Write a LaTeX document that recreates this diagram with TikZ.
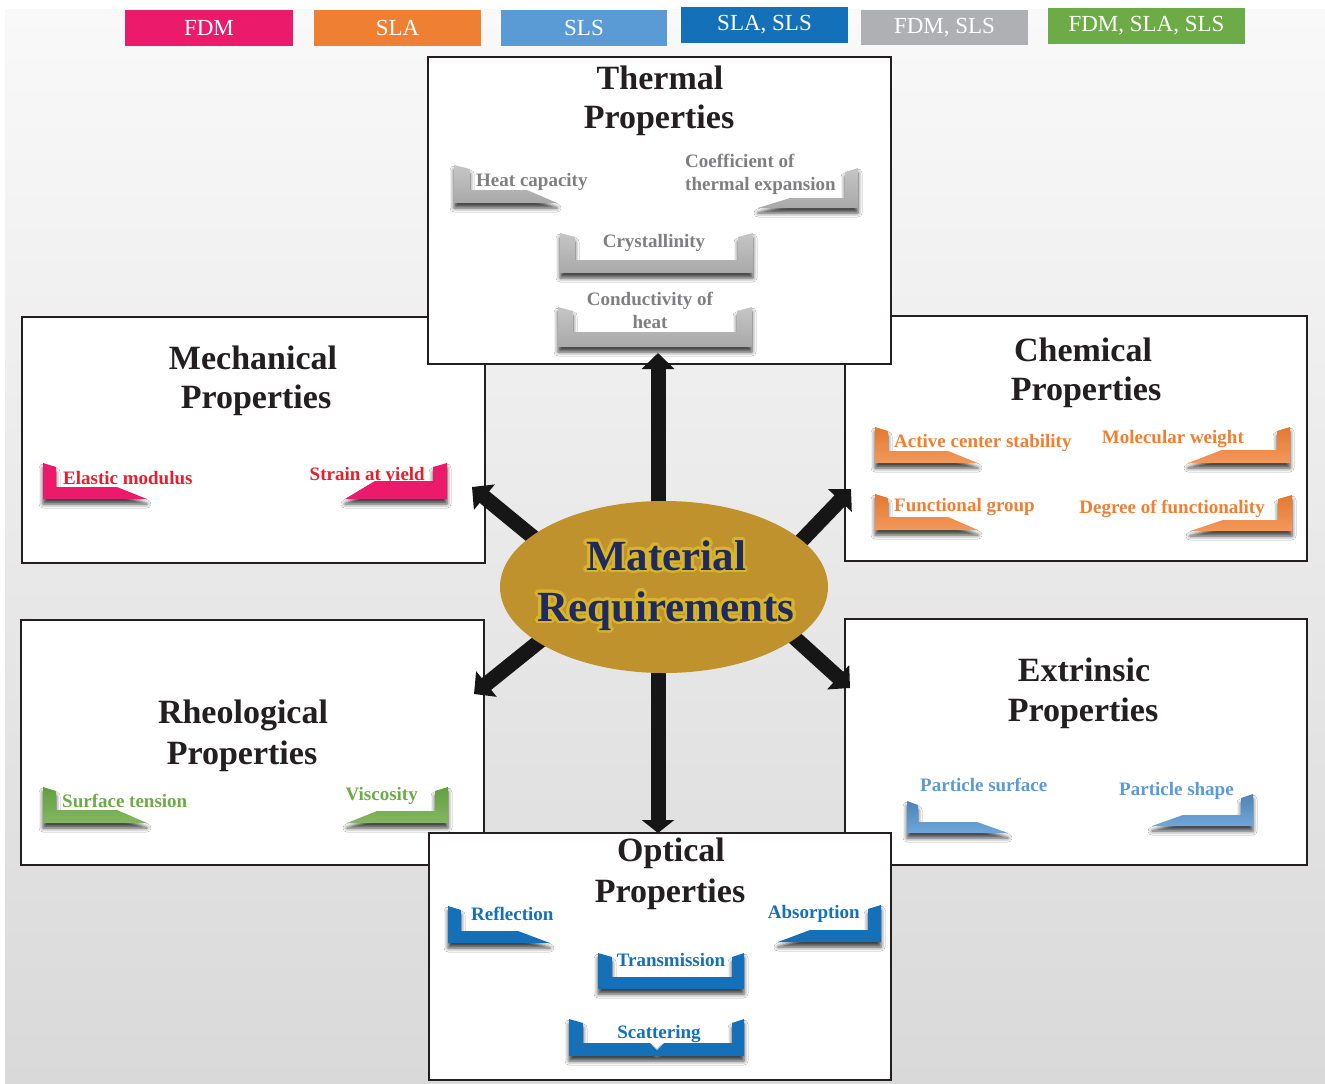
\documentclass[tikz,border=0pt]{standalone}
\usepackage{fontspec}
\setmainfont{Liberation Serif}
\usepackage{contour}
\usetikzlibrary{shapes.geometric,arrows.meta,shadows.blur}

\definecolor{fdmc}{HTML}{EC1A6A}
\definecolor{slac}{HTML}{EF7F32}
\definecolor{slsc}{HTML}{5B9BD5}
\definecolor{slaslsc}{HTML}{1370B9}
\definecolor{fdmslsc}{HTML}{AFB0B3}
\definecolor{allc}{HTML}{6DAB46}
\definecolor{boxline}{HTML}{231F20}
\definecolor{titlec}{HTML}{231F20}
\definecolor{bgtop}{HTML}{F9F9F9}
\definecolor{bgbot}{HTML}{D9D9D9}
\definecolor{goldc}{HTML}{C0922E}
\definecolor{navyc}{HTML}{1F2A5E}
\definecolor{glowc}{HTML}{D8B42B}
\definecolor{arrowc}{HTML}{161616}
\definecolor{mechtxt}{HTML}{EC1C2E}
\definecolor{thermtxt}{HTML}{7F7F81}

\contourlength{2.6pt}
\contournumber{32}

% bracket with the bar on the left: style, x0, x1, ytop, ycorner, ybottom, xflat, xtip
\newcommand\brL[8]{\path[#1] (#2,#4) -- (#3,#4+4) -- (#3,#5) -- (#7,#5) -- (#8,#6) -- (#2,#6) -- cycle;}
% bracket with the bar on the right: style, xinner, xouter, ytop, ycorner, ybottom, xflat, xtip
\newcommand\brR[8]{\path[#1] (#3,#4) -- (#2,#4+4) -- (#2,#5) -- (#7,#5) -- (#8,#6) -- (#3,#6) -- cycle;}
% U-shaped bracket: style, xa, xa2, xb, xb2, ytop, ycorner, ybottom
\newcommand\brU[8]{\path[#1] (#2,#6) -- (#3,#6+4) -- (#3,#7) -- (#4,#7) -- (#4,#6+4) -- (#5,#6) -- (#5,#8) -- (#2,#8) -- cycle;}

\begin{document}
\begin{tikzpicture}[x=1pt,y=-1pt,
  legbox/.style={rectangle, inner sep=0pt, text=white, minimum height=36pt,
    font=\fontsize{23}{26}\selectfont},
  propbox/.style={rectangle, draw=boxline, line width=2pt, fill=white, inner sep=0pt},
  ptitle/.style={anchor=base, inner sep=0pt, text=titlec,
    font=\fontsize{34}{40}\selectfont\bfseries},
  item/.style={inner sep=0pt, font=\fontsize{19}{23}\selectfont\bfseries},
  bshadow/.style={blur shadow={shadow xshift=0pt, shadow yshift=-5pt,
    shadow blur radius=4pt, shadow opacity=75}},
  grbr/.style={top color=gray!45, bottom color=gray!68, bshadow},
  pkbr/.style={fill=fdmc, bshadow},
  orbr/.style={top color=slac!95!black, bottom color=slac!80!white, bshadow},
  gnbr/.style={top color=allc!92!black, bottom color=allc!85!white, bshadow},
  lbbr/.style={top color=slsc!85!black, bottom color=slsc!88!white, bshadow},
  blbr/.style={fill=slaslsc, bshadow},
  bigarrow/.style={draw=arrowc, line width=15pt, -{Triangle[width=32pt,length=16pt]}},
]
% page and soft grey backdrop
\fill[white] (0,0) rectangle (1325,1084);
\shade[top color=bgtop, bottom color=bgbot] (5,9) rectangle (1325,1084);

% legend
\node[legbox, fill=fdmc,    minimum width=168pt] (lgA) at (209,28)    {FDM};
\node[legbox, fill=slac,    minimum width=167pt] (lgB) at (397.5,28)  {SLA};
\node[legbox, fill=slsc,    minimum width=166pt] (lgC) at (584,28)    {SLS};
\node[legbox, fill=slaslsc, minimum width=167pt] (lgD) at (764.5,25)  {SLA, SLS};
\node[legbox, fill=fdmslsc, minimum width=167pt, minimum height=35pt] (lgE) at (944.5,27.5) {FDM, SLS};
\node[legbox, fill=allc,    minimum width=197pt] (lgF) at (1146.5,26) {FDM, SLA, SLS};

% property boxes (side boxes first, top and bottom boxes overlap them)
\node[propbox, minimum width=463pt, minimum height=246pt] (mech)  at (253.5,440)  {};
\node[propbox, minimum width=462pt, minimum height=245pt] (chem)  at (1076,438.5) {};
\node[propbox, minimum width=463pt, minimum height=245pt] (rheo)  at (252.5,742.5) {};
\node[propbox, minimum width=462pt, minimum height=246pt] (extr)  at (1076,742)   {};
\node[propbox, minimum width=463pt, minimum height=307pt] (therm) at (659.5,210.5) {};
\node[propbox, minimum width=462pt, minimum height=247pt] (optic) at (660,956.5)  {};

% titles
\node[ptitle] (thT1) at (660,89)   {Thermal};
\node[ptitle] (thT2) at (659,128)  {Properties};
\node[ptitle] (meT1) at (253,369)  {Mechanical};
\node[ptitle] (meT2) at (256,408)  {Properties};
\node[ptitle] (chT1) at (1083,361) {Chemical};
\node[ptitle] (chT2) at (1086,400) {Properties};
\node[ptitle] (rhT1) at (243,723)  {Rheological};
\node[ptitle] (rhT2) at (242,764)  {Properties};
\node[ptitle] (exT1) at (1084,681) {Extrinsic};
\node[ptitle] (exT2) at (1083,721) {Properties};
\node[ptitle] (opT1) at (671,861)  {Optical};
\node[ptitle] (opT2) at (670,902)  {Properties};

% thermal items
\brL{grbr}{454}{470}{165}{190}{203}{527}{557}
\brR{grbr}{845}{858}{168}{198}{208}{790}{758}
\brU{grbr}{560}{575}{738}{753}{233}{260}{273}
\brU{grbr}{558}{573}{737}{752}{307}{332}{347}
\node[item, text=thermtxt, anchor=base west] (heat) at (476,186) {Heat capacity};
\node[item, text=thermtxt, anchor=base west] (cte1) at (685,167) {Coefficient of};
\node[item, text=thermtxt, anchor=base west] (cte2) at (685,190) {thermal expansion};
\node[item, text=thermtxt, anchor=base] (cryst) at (654,247) {Crystallinity};
\node[item, text=thermtxt, anchor=base] (cond1) at (650,305) {Conductivity of};
\node[item, text=thermtxt, anchor=base] (cond2) at (650,328) {heat};

% mechanical items
\brL{pkbr}{43}{56}{463}{487}{499}{117}{147}
\brR{pkbr}{433}{447}{463}{481}{499}{375}{345}
\node[item, text=mechtxt, anchor=base west] (elast) at (63,484) {Elastic modulus};
\node[item, text=mechtxt, anchor=base east] (strain) at (425,480) {Strain at yield};

% chemical items
\brL{orbr}{875}{888}{427}{451}{463}{948}{978}
\brR{orbr}{1277}{1290}{427}{450}{463}{1222}{1188}
\brL{orbr}{875}{888}{494}{517}{530}{948}{978}
\brR{orbr}{1278}{1292}{495}{520}{531}{1223}{1190}
\node[item, text=slac, anchor=base west] (active) at (894,447)  {Active center stability};
\node[item, text=slac, anchor=base east] (molw)   at (1244,443) {Molecular weight};
\node[item, text=slac, anchor=base west] (func)   at (894,511)  {Functional group};
\node[item, text=slac, anchor=base east] (degf)   at (1265,513) {Degree of functionality};

% rheological items
\brL{gnbr}{43}{56}{787}{810}{823}{117}{147}
\brR{gnbr}{435}{448}{787}{811}{823}{377}{347}
\node[item, text=allc, anchor=base west] (surft) at (62,807)  {Surface tension};
\node[item, text=allc, anchor=base east] (visc)  at (418,800) {Viscosity};

% extrinsic items
\brL{lbbr}{907}{918}{801}{822}{833}{977}{1008}
\brR{lbbr}{1241}{1253}{794}{815}{826}{1183}{1152}
\node[item, text=slsc, anchor=base west] (psurf)  at (920,791)  {Particle surface};
\node[item, text=slsc, anchor=base west] (pshape) at (1119,795) {Particle shape};

% optical items
\brL{blbr}{448}{461}{906}{931}{943}{518}{550}
\brR{blbr}{868}{881}{905}{930}{942}{810}{778}
\brU{blbr}{598}{612}{732}{744}{953}{977}{989}
\path[blbr] (569,1019) -- (583,1023) -- (583,1043) -- (650,1043) -- (657,1050)
  -- (664,1043) -- (732,1043) -- (732,1023) -- (744,1019) -- (744,1056) -- (569,1056) -- cycle;
\node[item, text=slaslsc, anchor=base west] (refl)  at (471,920)  {Reflection};
\node[item, text=slaslsc, anchor=base east] (absp)  at (860,918)  {Absorption};
\node[item, text=slaslsc, anchor=base] (trans) at (671,966)  {Transmission};
\node[item, text=slaslsc, anchor=base] (scat)  at (659,1038) {Scattering};

% arrows from the central ellipse
\coordinate (sUp) at (658,560);   \coordinate (tUp) at (658,353);
\coordinate (sDn) at (658,620);   \coordinate (tDn) at (658,833);
\coordinate (sUL) at (556,556);   \coordinate (tUL) at (472,487);
\coordinate (sUR) at (779,564);   \coordinate (tUR) at (851,489);
\coordinate (sLL) at (561,624);   \coordinate (tLL) at (474,694);
\coordinate (sLR) at (775,620);   \coordinate (tLR) at (850,688);
\draw[bigarrow] (sUp) -- (tUp);
\draw[bigarrow, -{Triangle[width=32pt,length=13pt]}] (sDn) -- (tDn);
\draw[bigarrow] (sUL) -- (tUL);
\draw[bigarrow] (sUR) -- (tUR);
\draw[bigarrow] (sLL) -- (tLL);
\draw[bigarrow] (sLR) -- (tLR);

% central ellipse, its words set with a yellow halo
\node[ellipse, fill=goldc, minimum width=328pt, minimum height=172pt, inner sep=0pt] (mr) at (664,587) {};
\node[anchor=base, inner sep=0pt, text=navyc, font=\fontsize{43}{50}\selectfont\bfseries]
  (mr1) at (666,570) {\contour{glowc}{Material}};
\node[anchor=base, inner sep=0pt, text=navyc, font=\fontsize{43}{50}\selectfont\bfseries]
  (mr2) at (666,621) {\contour{glowc}{Requirements}};
\end{tikzpicture}
\end{document}
